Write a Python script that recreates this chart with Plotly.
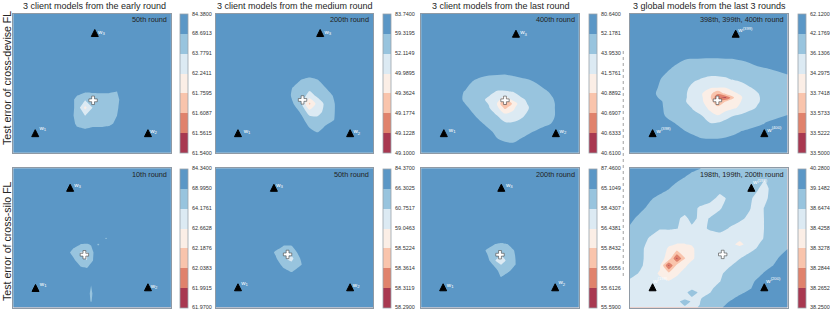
import plotly.graph_objects as go

W, H = 830, 312

# Band colours, lowest error to highest
band_colors = ["#a83850", "#e0826c", "#f9c4ac", "#fbeee6", "#dceaf3", "#98c4de", "#5b97c6"]

titles = ["3 client models from the early round", "3 client models from the medium round",
          "3 client models from the last round", "3 global models from the last 3 rounds"]
title_centers = [94.7, 295.7, 501.3, 710]
row_labels = ["Test error of cross-devise FL", "Test error of cross-silo FL"]

round_labels = ["50th round", "200th round", "400th round", "398th, 399th, 400th round",
                "10th round", "50th round", "200th round", "198th, 199th, 200th round"]

levels_1 = ["61.5400", "61.5615", "61.6087", "61.7595", "62.2411", "63.7791", "68.6913", "84.3800"]
levels_2 = ["49.1000", "49.1228", "49.1774", "49.3624", "49.9895", "52.1149", "59.3195", "83.7400"]
levels_3 = ["40.6100", "40.6333", "40.6907", "40.8892", "41.5761", "43.9530", "52.1781", "80.6400"]
levels_4 = ["33.5000", "33.5222", "33.5733", "33.7418", "34.2975", "36.1306", "42.1769", "62.1200"]
levels_5 = ["61.9700", "61.9915", "62.0383", "62.1876", "62.6628", "64.1761", "68.9950", "84.3400"]
levels_6 = ["58.2900", "58.3119", "58.3614", "58.5224", "59.0463", "60.7517", "66.3025", "84.3700"]
levels_7 = ["55.5900", "55.6126", "55.6656", "55.8432", "56.4381", "58.4307", "65.1049", "87.4600"]
levels_8 = ["38.2500", "38.2652", "38.2844", "38.3278", "38.4258", "38.6474", "39.1482", "40.2800"]

# Client / global model positions: (x, y) in plane coordinates
w_names_a = ["w<sub>1</sub>", "w<sub>2</sub>", "w<sub>3</sub>"]
w_names_4 = ["w<sup>(398)</sup>", "w<sup>(400)</sup>", "w<sup>(399)</sup>"]
w_names_8 = ["w<sup>(198)</sup>", "w<sup>(200)</sup>", "w<sup>(199)</sup>"]
wx_1 = [22, 135, 81.7];   wy_1 = [120, 120, 20]
wx_2 = [22.3, 134.7, 104.7]; wy_2 = [120, 120, 20]
wx_3 = [22.7, 135, 95];   wy_3 = [120, 120, 20.7]
wx_4 = [22.7, 134.7, 106]; wy_4 = [120, 120, 20.7]
wx_5 = [22.3, 135, 57];   wy_5 = [120, 119.3, 20]
wx_6 = [22.3, 134.7, 58.3]; wy_6 = [119.3, 119.3, 20]
wx_7 = [22, 134.3, 80.3]; wy_7 = [119.3, 119.3, 20]
wx_8 = [22.7, 134.7, 121.7]; wy_8 = [119.3, 119.3, 20]
# Label offsets from each triangle
ldx_1 = [4.3, 2.3, 3.3]; ldy_1 = [-5, -2.3, -1]
ldx_2 = [5.7, 3.3, 4.3]; ldy_2 = [-2.3, -1.7, -1.3]
ldx_3 = [5, 3.7, 4.3];   ldy_3 = [-3.3, -2.3, -1.3]
ldx_4 = [4, 3, 2.7];     ldy_4 = [-2.3, -3.3, -3.3]
ldx_5 = [4.3, 2.7, 4];   ldy_5 = [-4, -1.3, -2.7]
ldx_6 = [3.3, 2.7, 2.3]; ldy_6 = [-4.3, -2.7, -3]
ldx_7 = [3.7, 3.3, 4.7]; ldy_7 = [-2.3, -5, -2.7]
ldx_8 = [0.7, 2, 1.7];   ldy_8 = [-6.7, -6.7, -5.7]
plus_x = [80, 87, 84, 87.7, 71.3, 72, 79, 93]
plus_y = [86.7, 86.3, 86.7, 86.7, 86.3, 86, 86.3, 86]
smoothing = [0, 0.6, 1, 1, 0, 0.4, 0.3, 0.3]

# Error surfaces on the rank scale of the colour bar (integer = colour bar level)
x_1 = [0, 56, 64, 72, 80, 88, 96, 104, 112, 158]
y_1 = [0, 70, 78, 86, 94, 102, 110, 118, 139]
z_1 = [
    [6.6, 6.6, 6.6, 6.6, 6.6, 6.6, 6.6, 6.6, 6.6, 6.6],
    [6.6, 6.6, 6.6, 6.5, 6.5, 6.5, 6.5, 6.5, 6.6, 6.6],
    [6.6, 6.6, 6.3, 6.1, 6.1, 6.1, 6.1, 6.0, 6.5, 6.6],
    [6.6, 6.5, 5.7, 5.1, 5.5, 5.6, 5.6, 5.8, 6.5, 6.6],
    [6.6, 6.5, 5.7, 3.7, 5.1, 5.5, 5.6, 5.9, 6.5, 6.6],
    [6.6, 6.5, 5.6, 5.0, 5.4, 5.6, 5.6, 6.0, 6.5, 6.6],
    [6.6, 6.6, 5.8, 5.6, 5.7, 5.7, 5.8, 6.2, 6.6, 6.6],
    [6.6, 6.6, 6.3, 6.2, 6.4, 6.4, 6.5, 6.6, 6.6, 6.6],
    [6.6, 6.6, 6.6, 6.6, 6.6, 6.6, 6.6, 6.6, 6.6, 6.6],
]

x_2 = [0, 70, 78, 86, 94, 102, 110, 118, 126, 158]
y_2 = [0, 58, 66, 74, 82, 90, 98, 106, 114, 122, 139]
z_2 = [
    [6.6, 6.6, 6.6, 6.6, 6.6, 6.6, 6.6, 6.6, 6.6, 6.6],
    [6.6, 6.6, 6.5, 6.4, 6.4, 6.5, 6.6, 6.6, 6.6, 6.6],
    [6.6, 6.6, 6.4, 6.0, 5.85, 6.0, 6.4, 6.6, 6.6, 6.6],
    [6.6, 6.3, 5.95, 5.6, 5.3, 5.5, 6.0, 6.3, 6.6, 6.6],
    [6.6, 6.2, 5.9, 5.5, 4.6, 5.2, 5.6, 6.05, 6.6, 6.6],
    [6.6, 6.3, 6.0, 5.1, 2.8, 4.4, 5.2, 5.9, 6.5, 6.6],
    [6.6, 6.6, 6.4, 5.85, 4.4, 4.6, 5.3, 5.9, 6.5, 6.6],
    [6.6, 6.6, 6.6, 6.2, 5.6, 5.3, 5.6, 5.95, 6.5, 6.6],
    [6.6, 6.6, 6.6, 6.5, 6.0, 5.6, 6.15, 6.5, 6.6, 6.6],
    [6.6, 6.6, 6.6, 6.6, 6.5, 6.3, 6.5, 6.6, 6.6, 6.6],
    [6.6, 6.6, 6.6, 6.6, 6.6, 6.6, 6.6, 6.6, 6.6, 6.6],
]

x_3 = [0, 36, 44, 52, 60, 68, 76, 84, 92, 100, 108, 116, 124, 132, 140, 158]
y_3 = [0, 54, 62, 70, 78, 86, 90, 94, 102, 110, 118, 126, 134, 139]
z_3 = [
    [6.6, 6.6, 6.6, 6.6, 6.6, 6.6, 6.6, 6.6, 6.6, 6.6, 6.6, 6.6, 6.6, 6.6, 6.6, 6.6],
    [6.6, 6.6, 6.6, 6.6, 6.5, 6.4, 6.4, 6.3, 6.3, 6.4, 6.5, 6.6, 6.6, 6.6, 6.6, 6.6],
    [6.6, 6.6, 6.6, 6.3, 6.1, 6.0, 5.97, 5.95, 6.02, 6.15, 6.3, 6.5, 6.6, 6.6, 6.6, 6.6],
    [6.6, 6.6, 6.3, 5.85, 5.65, 5.55, 5.45, 5.45, 5.5, 5.6, 5.7, 6.0, 6.25, 6.6, 6.6, 6.6],
    [6.6, 6.25, 5.95, 5.6, 5.3, 5.2, 4.95, 4.95, 5.02, 5.3, 5.55, 5.75, 5.9, 6.15, 6.5, 6.6],
    [6.6, 6.2, 5.9, 5.55, 5.15, 4.85, 4.5, 3.2, 4.3, 4.85, 5.15, 5.5, 5.75, 5.95, 6.4, 6.6],
    [6.6, 6.3, 6.0, 5.65, 5.3, 4.95, 4.0, 1.6, 3.2, 4.65, 5.1, 5.4, 5.65, 5.9, 6.3, 6.6],
    [6.6, 6.4, 6.2, 5.75, 5.4, 5.05, 4.3, 2.7, 3.8, 4.55, 5.0, 5.35, 5.6, 5.9, 6.3, 6.6],
    [6.6, 6.6, 6.4, 6.1, 5.7, 5.35, 5.02, 4.45, 4.3, 4.85, 5.2, 5.5, 5.7, 5.9, 6.3, 6.6],
    [6.6, 6.6, 6.6, 6.4, 6.1, 5.75, 5.45, 5.15, 5.2, 5.25, 5.45, 5.65, 5.85, 6.05, 6.4, 6.6],
    [6.6, 6.6, 6.6, 6.6, 6.45, 6.15, 5.8, 5.65, 5.6, 5.7, 5.9, 6.1, 6.3, 6.5, 6.6, 6.6],
    [6.6, 6.6, 6.6, 6.6, 6.6, 6.4, 6.05, 5.9, 5.85, 6.05, 6.25, 6.45, 6.6, 6.6, 6.6, 6.6],
    [6.6, 6.6, 6.6, 6.6, 6.6, 6.6, 6.4, 6.3, 6.25, 6.4, 6.5, 6.6, 6.6, 6.6, 6.6, 6.6],
    [6.6, 6.6, 6.6, 6.6, 6.6, 6.6, 6.6, 6.6, 6.6, 6.6, 6.6, 6.6, 6.6, 6.6, 6.6, 6.6],
]

x_4 = [0, 24, 32, 44, 56, 64, 72, 80, 88, 96, 104, 112, 120, 128, 136, 158]
y_4 = [0, 38, 46, 56, 66, 74, 80, 84, 88, 94, 102, 110, 118, 126, 139]
z_4 = [
    [6.7, 6.7, 6.7, 6.7, 6.7, 6.7, 6.7, 6.7, 6.7, 6.7, 6.7, 6.7, 6.7, 6.7, 6.7, 6.7],
    [6.7, 6.7, 6.7, 6.6, 6.4, 6.3, 6.3, 6.25, 6.25, 6.3, 6.3, 6.4, 6.5, 6.6, 6.7, 6.7],
    [6.7, 6.7, 6.6, 6.2, 6.0, 5.97, 5.95, 5.95, 5.95, 5.97, 5.98, 6.05, 6.15, 6.3, 6.4, 6.7],
    [6.7, 6.5, 6.2, 5.9, 5.6, 5.45, 5.35, 5.3, 5.3, 5.35, 5.45, 5.55, 5.7, 5.85, 5.93, 6.2],
    [6.6, 6.25, 5.95, 5.6, 5.3, 5.1, 4.95, 4.85, 4.85, 4.9, 5.05, 5.25, 5.45, 5.65, 5.8, 5.8],
    [6.5, 6.1, 5.9, 5.5, 5.15, 4.75, 4.45, 4.1, 4.05, 4.02, 4.2, 4.5, 4.95, 5.2, 5.5, 5.75],
    [6.45, 6.05, 5.85, 5.45, 5.05, 4.7, 4.05, 3.4, 2.1, 3.3, 3.9, 4.1, 4.6, 4.95, 5.35, 5.65],
    [6.5, 6.1, 5.9, 5.5, 5.05, 4.65, 4.1, 3.3, 1.1, 0.8, 2.9, 3.95, 4.6, 4.9, 5.25, 5.65],
    [6.55, 6.25, 6.02, 5.55, 5.02, 4.65, 4.15, 3.4, 2.4, 3.02, 3.55, 4.05, 4.65, 4.9, 5.3, 5.65],
    [6.6, 6.4, 6.05, 5.6, 5.25, 4.9, 4.4, 3.8, 3.2, 3.4, 3.85, 4.25, 4.7, 5.1, 5.4, 5.75],
    [6.65, 6.55, 6.1, 5.7, 5.35, 5.2, 5.02, 4.3, 4.05, 4.7, 4.98, 5.2, 5.45, 5.6, 5.8, 6.02],
    [6.7, 6.65, 6.5, 6.05, 5.7, 5.5, 5.25, 5.1, 5.15, 5.3, 5.45, 5.6, 5.75, 5.85, 6.03, 6.3],
    [6.7, 6.7, 6.7, 6.4, 6.02, 5.85, 5.75, 5.65, 5.65, 5.75, 5.85, 6.03, 6.15, 6.3, 6.4, 6.55],
    [6.7, 6.7, 6.7, 6.7, 6.5, 6.2, 6.05, 6.05, 6.05, 6.1, 6.2, 6.35, 6.5, 6.6, 6.65, 6.7],
    [6.7, 6.7, 6.7, 6.7, 6.7, 6.7, 6.7, 6.7, 6.7, 6.7, 6.7, 6.7, 6.7, 6.7, 6.7, 6.7],
]

x_5 = [0, 52, 60, 68, 74, 78, 82, 85, 90, 93, 96, 158]
y_5 = [0, 68, 70, 72, 76, 84, 92, 100, 108, 117, 125, 133, 136, 139]
z_5 = [
    [6.6, 6.6, 6.6, 6.6, 6.6, 6.6, 6.6, 6.6, 6.6, 6.6, 6.6, 6.6],
    [6.6, 6.6, 6.6, 6.6, 6.6, 6.6, 6.6, 6.6, 6.6, 6.6, 6.6, 6.6],
    [6.6, 6.6, 6.6, 6.6, 6.6, 6.6, 6.6, 6.6, 6.6, 5.7, 6.6, 6.6],
    [6.6, 6.6, 6.6, 6.5, 6.5, 6.5, 6.6, 6.6, 6.6, 6.6, 6.6, 6.6],
    [6.6, 6.6, 6.4, 5.95, 5.92, 6.05, 6.3, 5.9, 6.3, 6.6, 6.6, 6.6],
    [6.6, 6.6, 5.6, 4.9, 4.95, 5.7, 6.2, 6.6, 6.6, 6.6, 6.6, 6.6],
    [6.6, 6.6, 6.3, 5.2, 5.0, 5.8, 6.2, 6.6, 6.6, 6.6, 6.6, 6.6],
    [6.6, 6.6, 6.6, 6.2, 6.05, 6.4, 6.6, 6.6, 6.6, 6.6, 6.6, 6.6],
    [6.6, 6.6, 6.6, 6.6, 6.6, 6.6, 6.6, 6.6, 6.6, 6.6, 6.6, 6.6],
    [6.6, 6.6, 6.6, 6.6, 6.6, 6.0, 6.6, 6.6, 6.6, 6.6, 6.6, 6.6],
    [6.6, 6.6, 6.6, 6.6, 6.6, 5.7, 6.6, 6.6, 6.6, 6.6, 6.6, 6.6],
    [6.6, 6.6, 6.6, 6.6, 6.6, 5.9, 6.6, 6.6, 6.6, 6.6, 6.6, 6.6],
    [6.6, 6.6, 6.6, 6.6, 6.6, 6.6, 6.6, 6.6, 6.6, 6.6, 6.6, 6.6],
    [6.6, 6.6, 6.6, 6.6, 6.6, 6.6, 6.6, 6.6, 6.6, 6.6, 6.6, 6.6],
]

x_6 = [0, 52, 60, 68, 76, 84, 92, 158]
y_6 = [0, 70, 78, 84, 90, 96, 102, 108, 139]
z_6 = [
    [6.6, 6.6, 6.6, 6.6, 6.6, 6.6, 6.6, 6.6],
    [6.6, 6.6, 6.6, 6.5, 6.5, 6.6, 6.6, 6.6],
    [6.6, 6.6, 6.4, 5.95, 5.95, 6.4, 6.6, 6.6],
    [6.6, 6.6, 5.85, 5.6, 5.55, 6.2, 6.6, 6.6],
    [6.6, 6.6, 6.15, 5.15, 4.7, 5.95, 6.6, 6.6],
    [6.6, 6.6, 6.5, 5.7, 5.3, 5.85, 6.4, 6.6],
    [6.6, 6.6, 6.6, 6.2, 5.85, 6.3, 6.6, 6.6],
    [6.6, 6.6, 6.6, 6.6, 6.4, 6.6, 6.6, 6.6],
    [6.6, 6.6, 6.6, 6.6, 6.6, 6.6, 6.6, 6.6],
]

x_7 = [0, 58, 66, 74, 80, 86, 94, 102, 158]
y_7 = [0, 68, 76, 82, 88, 92, 96, 102, 108, 114, 139]
z_7 = [
    [6.6, 6.6, 6.6, 6.6, 6.6, 6.6, 6.6, 6.6, 6.6],
    [6.6, 6.6, 6.6, 6.5, 6.45, 6.5, 6.6, 6.6, 6.6],
    [6.6, 6.6, 6.3, 5.98, 5.9, 5.97, 6.2, 6.6, 6.6],
    [6.6, 6.4, 5.9, 5.7, 5.6, 5.6, 6.05, 6.6, 6.6],
    [6.6, 6.6, 6.1, 5.4, 4.9, 5.3, 5.98, 6.6, 6.6],
    [6.6, 6.6, 6.4, 5.05, 4.3, 5.2, 5.95, 6.6, 6.6],
    [6.6, 6.6, 6.6, 5.75, 4.95, 5.55, 5.95, 6.6, 6.6],
    [6.6, 6.6, 6.6, 6.3, 5.65, 5.75, 6.3, 6.6, 6.6],
    [6.6, 6.6, 6.6, 6.5, 5.95, 6.3, 6.6, 6.6, 6.6],
    [6.6, 6.6, 6.6, 6.6, 6.4, 6.6, 6.6, 6.6, 6.6],
    [6.6, 6.6, 6.6, 6.6, 6.6, 6.6, 6.6, 6.6, 6.6],
]

x_8 = [0, 10, 20, 30, 39, 47, 55, 62, 70, 80, 90, 100, 110, 120, 128, 135, 142, 150, 158]
y_8 = [0, 10, 20, 30, 40, 50, 60, 70, 76, 80, 90, 97, 105, 113, 120, 124, 130, 133, 139]
z_8 = [
    [6.8, 6.7, 6.6, 6.5, 6.4, 6.32, 6.25, 6.12, 6.02, 5.85, 5.7, 5.65, 5.6, 5.5, 5.45, 5.4, 5.45, 5.5, 5.6],
    [6.7, 6.6, 6.45, 6.3, 6.2, 6.1, 5.97, 5.82, 5.7, 5.6, 5.55, 5.5, 5.45, 5.35, 5.2, 5.1, 5.3, 5.5, 5.6],
    [6.5, 6.4, 6.25, 6.15, 6.02, 5.85, 5.7, 5.6, 5.5, 5.4, 5.2, 5.25, 5.4, 5.3, 5.1, 4.6, 5.3, 5.45, 5.6],
    [6.4, 6.25, 6.05, 5.9, 5.8, 5.7, 5.65, 5.5, 5.4, 5.2, 4.85, 5.1, 5.35, 5.15, 4.7, 4.8, 5.25, 5.5, 5.6],
    [6.3, 6.1, 5.9, 5.75, 5.6, 5.5, 5.4, 5.25, 4.9, 4.75, 4.95, 5.25, 5.4, 5.05, 4.65, 5.05, 5.3, 5.5, 5.6],
    [6.1, 5.9, 5.7, 5.55, 5.4, 5.15, 4.8, 5.25, 4.85, 5.02, 5.2, 5.3, 5.15, 4.85, 4.5, 5.05, 5.3, 5.5, 5.65],
    [5.95, 5.75, 5.45, 5.05, 5.1, 5.02, 4.85, 4.85, 4.75, 5.1, 5.25, 4.95, 4.7, 4.55, 4.45, 5.05, 5.35, 5.5, 5.65],
    [5.8, 5.45, 4.9, 4.6, 4.3, 4.2, 4.2, 4.25, 4.4, 4.55, 4.65, 4.6, 4.3, 4.4, 4.6, 5.1, 5.4, 5.6, 5.8],
    [5.7, 5.3, 4.75, 4.45, 4.1, 3.97, 3.97, 4.05, 4.4, 4.5, 4.55, 4.5, 3.6, 4.65, 4.95, 5.25, 5.5, 5.75, 5.95],
    [5.65, 5.2, 4.7, 4.4, 3.9, 3.6, 3.6, 3.85, 4.35, 4.5, 4.55, 4.6, 4.65, 4.8, 5.05, 5.3, 5.55, 5.8, 5.98],
    [5.6, 5.15, 4.75, 4.3, 3.7, 0.8, 2.95, 3.85, 4.35, 4.5, 4.7, 4.85, 4.98, 5.25, 5.4, 5.6, 5.8, 6.05, 6.3],
    [5.45, 5.1, 4.75, 4.2, 0.8, 3.3, 3.85, 4.3, 4.45, 4.6, 4.75, 4.95, 5.2, 5.45, 5.6, 5.8, 5.95, 6.2, 6.4],
    [5.2, 4.95, 4.5, 3.85, 3.3, 3.85, 4.3, 4.45, 4.55, 4.7, 4.9, 5.2, 5.4, 5.65, 5.85, 6.05, 6.3, 6.45, 6.6],
    [4.9, 4.7, 4.55, 4.3, 4.05, 4.3, 4.45, 4.55, 4.65, 4.85, 4.98, 5.3, 5.55, 5.85, 6.1, 6.3, 6.5, 6.6, 6.7],
    [4.75, 4.6, 4.5, 4.45, 4.45, 4.55, 4.7, 4.8, 4.85, 4.9, 5.2, 5.45, 5.7, 5.95, 6.2, 6.4, 6.6, 6.7, 6.8],
    [4.7, 4.6, 4.5, 4.5, 4.5, 4.6, 4.75, 5.4, 4.85, 4.97, 5.35, 5.55, 5.85, 6.15, 6.3, 6.5, 6.65, 6.75, 6.85],
    [4.65, 4.6, 4.55, 4.55, 4.6, 4.7, 4.8, 4.85, 4.95, 5.25, 5.55, 5.85, 6.2, 6.4, 6.55, 6.65, 6.75, 6.8, 6.85],
    [4.6, 4.6, 4.55, 4.6, 4.65, 4.75, 5.4, 4.9, 4.98, 5.35, 5.7, 6.02, 6.3, 6.5, 6.6, 6.7, 6.8, 6.85, 6.9],
    [4.6, 4.6, 4.6, 4.6, 4.7, 4.8, 4.85, 4.95, 5.02, 5.45, 5.92, 6.2, 6.4, 6.6, 6.7, 6.75, 6.8, 6.9, 6.9],
]

# Page layout in pixels
panel_left = [13.3, 216, 421.7, 630.7]
panel_top = [13.5, 168.3]
panel_w, panel_h = 157.8, 139.2
bar_left = [180, 383, 589, 798]

grid_x = [x_1, x_2, x_3, x_4, x_5, x_6, x_7, x_8]
grid_y = [y_1, y_2, y_3, y_4, y_5, y_6, y_7, y_8]
grid_z = [z_1, z_2, z_3, z_4, z_5, z_6, z_7, z_8]
all_levels = [levels_1, levels_2, levels_3, levels_4, levels_5, levels_6, levels_7, levels_8]
all_wx = [wx_1, wx_2, wx_3, wx_4, wx_5, wx_6, wx_7, wx_8]
all_wy = [wy_1, wy_2, wy_3, wy_4, wy_5, wy_6, wy_7, wy_8]
all_ldx = [ldx_1, ldx_2, ldx_3, ldx_4, ldx_5, ldx_6, ldx_7, ldx_8]
all_ldy = [ldy_1, ldy_2, ldy_3, ldy_4, ldy_5, ldy_6, ldy_7, ldy_8]
all_names = [w_names_a, w_names_a, w_names_a, w_names_4, w_names_a, w_names_a, w_names_a, w_names_8]

FONT = "Liberation Sans"
colorscale = [[i / 6, c] for i, c in enumerate(band_colors)]

fig = go.Figure()
annotations = []
layout_axes = {}

for i in range(8):
    col, row = i % 4, i // 4
    n = i + 1
    xa, ya = ("xaxis" if n == 1 else f"xaxis{n}"), ("yaxis" if n == 1 else f"yaxis{n}")
    xr, yr = f"x{'' if n == 1 else n}", f"y{'' if n == 1 else n}"
    left, top = panel_left[col], panel_top[row]
    layout_axes[xa] = dict(domain=[left / W, (left + panel_w) / W], range=[0, 158], anchor=yr,
                           showgrid=False, zeroline=False, showticklabels=False, ticks="",
                           showline=True, mirror=True, linecolor="#8f9aa5", linewidth=1)
    layout_axes[ya] = dict(domain=[1 - (top + panel_h) / H, 1 - top / H], range=[139, 0], anchor=xr,
                           showgrid=False, zeroline=False, showticklabels=False, ticks="",
                           showline=True, mirror=True, linecolor="#8f9aa5", linewidth=1)
    fig.add_trace(go.Contour(
        x=grid_x[i], y=grid_y[i], z=grid_z[i], xaxis=xr, yaxis=yr,
        autocontour=False, contours=dict(start=1, end=6, size=1, coloring="fill", showlines=False),
        line=dict(width=0, smoothing=smoothing[i]), colorscale=colorscale, zmin=0, zmax=7, hoverinfo="skip",
        colorbar=dict(
            x=bar_left[col] / W, xanchor="left", xpad=0, ypad=0,
            y=1 - (top + panel_h) / H, yanchor="bottom", len=panel_h / H, lenmode="fraction",
            thickness=7.5, thicknessmode="pixels", outlinecolor="#9aa3ab", outlinewidth=0.8,
            tickmode="array", tickvals=list(range(8)), ticktext=all_levels[i],
            ticks="outside", ticklen=3, tickcolor="rgba(0,0,0,0)", tickwidth=0,
            tickfont=dict(size=5.5, family=FONT, color="#333333"),
        ),
    ))
    # The arrow symbol has its tip at the point, so it is raised by half its height
    fig.add_trace(go.Scatter(
        x=all_wx[i], y=[v - 4 for v in all_wy[i]], xaxis=xr, yaxis=yr, mode="markers",
        marker=dict(symbol="arrow-up", size=7, color="black", line=dict(color="black", width=1)),
        showlegend=False, hoverinfo="skip",
    ))
    fig.add_trace(go.Scatter(
        x=[a + b for a, b in zip(all_wx[i], all_ldx[i])], y=[a + b for a, b in zip(all_wy[i], all_ldy[i])],
        xaxis=xr, yaxis=yr, mode="text", text=all_names[i], textposition="middle right",
        textfont=dict(size=6, family=FONT, color="white"), showlegend=False, hoverinfo="skip",
    ))
    fig.add_trace(go.Scatter(
        x=[plus_x[i]], y=[plus_y[i]], xaxis=xr, yaxis=yr, mode="markers",
        marker=dict(symbol="cross", size=7, color="white", line=dict(color="#444444", width=0.6)),
        showlegend=False, hoverinfo="skip",
    ))
    annotations.append(dict(
        x=(left + panel_w - 2) / W, y=1 - (top + 6) / H, xref="paper", yref="paper", text=round_labels[i],
        xanchor="right", yanchor="middle", showarrow=False, font=dict(size=7.3, family=FONT, color="#222222"),
    ))

for t, cx in zip(titles, title_centers):
    annotations.append(dict(x=cx / W, y=1 - 6 / H, xref="paper", yref="paper", text=t, showarrow=False,
                            xanchor="center", yanchor="middle", font=dict(size=9, family=FONT, color="#262626")))
for t, cy in zip(row_labels, [78, 241]):
    annotations.append(dict(x=7 / W, y=1 - cy / H, xref="paper", yref="paper", text=t, showarrow=False,
                            textangle=-90, xanchor="center", yanchor="middle",
                            font=dict(size=10.6, family=FONT, color="#262626")))

fig.update_layout(
    width=W, height=H, margin=dict(l=0, r=0, t=0, b=0), showlegend=False,
    paper_bgcolor="white", plot_bgcolor="white", annotations=annotations,
    shapes=[dict(type="line", xref="paper", yref="paper", x0=624 / W, x1=624 / W, y0=1 - 51 / H, y1=1 - 278 / H,
                 line=dict(color="#777777", width=0.7, dash="dot"))],
    **layout_axes,
)
fig.write_html("out.html", post_script="document.body.style.margin='0';", config={"displayModeBar": False})
